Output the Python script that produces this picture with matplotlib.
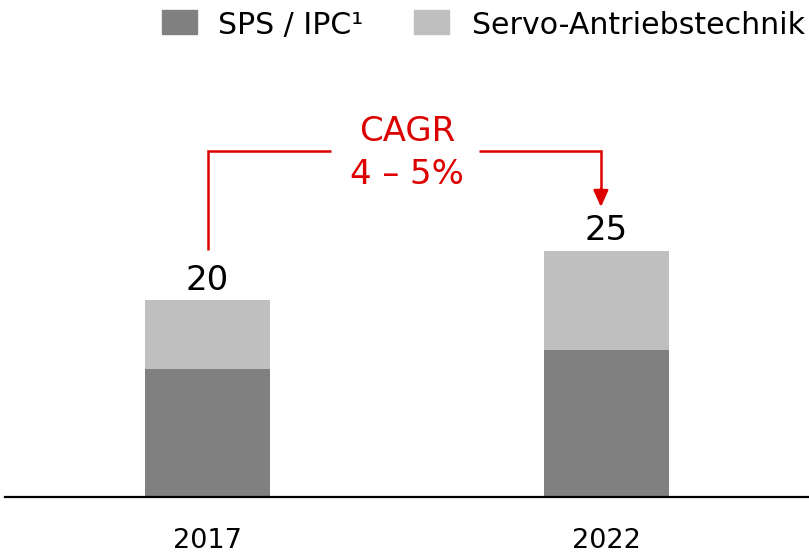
import matplotlib
matplotlib.use("Agg")
import matplotlib.pyplot as plt
from matplotlib.patches import Rectangle

years = ["2017", "2022"]
sps_ipc = [13, 15]
servo = [7, 10]
totals = [a + b for a, b in zip(sps_ipc, servo)]
series_names = ["SPS / IPC¹", "Servo-Antriebstechnik"]
cagr_text = ["CAGR", "4 – 5%"]

c_dark = "#808080"
c_light = "#BFBFBF"
c_red = "#DC0000"

W, H = 809, 554
fig = plt.figure(figsize=(W / 100, H / 100), dpi=100)
plt.rcParams['font.family'] = ['DejaVu Sans']

# axes: pixel x 5..809, y 0..497 (baseline at 497)
base_px = 497
ax = fig.add_axes([5 / W, (H - base_px) / H, (W - 5) / W, base_px / H])
px_per_unit = 9.83
ax.set_ylim(0, base_px / px_per_unit)
ax.set_xlim((5 - 207.5) / 399, (809 - 207.5) / 399)
ax.axis("off")

x = list(range(len(years)))
bw = 125 / 399
ax.bar(x, sps_ipc, width=bw, color=c_dark, zorder=2)
ax.bar(x, servo, width=bw, bottom=sps_ipc, color=c_light, zorder=2)
ax.axhline(0, color="black", lw=1.6, zorder=3, clip_on=False)

for xi, t in zip(x, totals):
    ax.text(xi, t + 1.1, f"{t}", ha="center", va="baseline", fontsize=24.5, color="black")

for xi, y in zip(x, years):
    ax.text(xi, -(548 - base_px) / base_px, y, transform=ax.get_xaxis_transform(),
            ha="center", va="baseline", fontsize=19.5, color="black")

# CAGR bracket
top = max(totals) + 10.2
left_start = totals[0] + 5.1
right_end = totals[1] + 4.5
gap_l, gap_r = 0.31, 0.68
x_r = 0.986
ax.plot([x[0], x[0], gap_l], [left_start, top, top], color=c_red, lw=1.8,
        solid_capstyle="butt", solid_joinstyle="miter", zorder=4)
ax.plot([gap_r, x_r, x_r], [top, top, right_end + 1.2], color=c_red, lw=1.8,
        solid_capstyle="butt", solid_joinstyle="miter", zorder=4)
ax.annotate("", xy=(x_r, right_end), xytext=(x_r, right_end + 1.9),
            arrowprops=dict(arrowstyle="-|>,head_length=1.0,head_width=0.45",
                            color=c_red, lw=1.8, shrinkA=0, shrinkB=0))
mid = (x[0] + x[1]) / 2
ax.text(mid, top + 1.0, cagr_text[0], ha="center", va="baseline", fontsize=24.5, color=c_red)
ax.text(mid, top - 3.4, cagr_text[1], ha="center", va="baseline", fontsize=24.5, color=c_red)

# legend (manual)
leg_items = [(162, c_dark, 218, series_names[0]), (414, c_light, 472, series_names[1])]
for sx, col, tx, name in leg_items:
    fig.patches.append(Rectangle((sx / W, (H - 34) / H), 35 / W, 24 / H,
                                 transform=fig.transFigure, color=col))
    fig.text(tx / W, (H - 34) / H, name, ha="left", va="baseline", fontsize=21.6, color="black")

fig.savefig("out.png", dpi=100)
